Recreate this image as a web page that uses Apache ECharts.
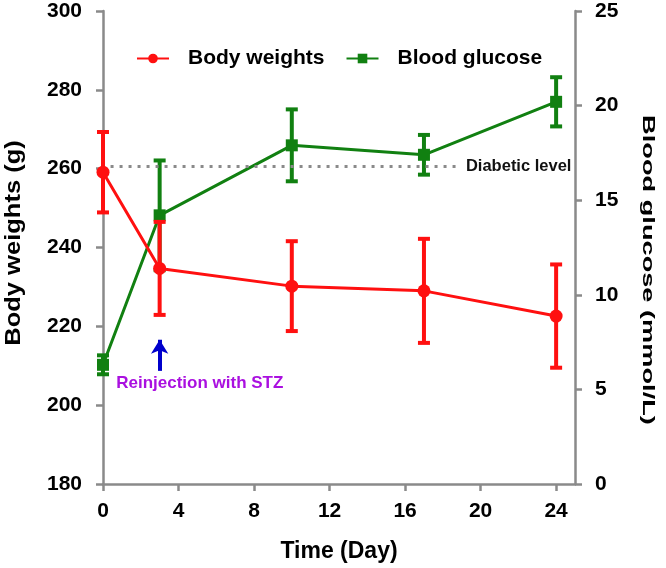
<!DOCTYPE html>
<html>
<head>
<meta charset="utf-8">
<script src="https://cdn.jsdelivr.net/npm/echarts@6/dist/echarts.min.js"></script>
<style>html,body{margin:0;padding:0;background:#fff;}#c{width:666px;height:568px;}</style>
</head>
<body>
<div id="c"></div>
<script>
// ---- data ----
const days = [0, 3, 10, 17, 24];
const bodyWeight = [259.1, 234.7, 230.2, 229.0, 222.6];
const bodyWeightErr = [10.2, 11.8, 11.4, 13.2, 13.1];
const glucose = [6.3, 14.2, 17.9, 17.4, 20.2];
const glucoseErr = [0.5, 2.9, 1.9, 1.05, 1.3];
const diabeticLevel = 16.8;
const xTicks = [0, 4, 8, 12, 16, 20, 24];
const leftTicks = [180, 200, 220, 240, 260, 280, 300];
const rightTicks = [0, 5, 10, 15, 20, 25];
const reinjectionDay = 3;
const leftTitle = 'Body weights (g)';
const rightTitle = 'Blood glucose (mmol/L)';
const xTitle = 'Time (Day)';

const FONT = '"Liberation Sans", Arial, sans-serif';
const AXIS_COLOR = '#8a8a8a';

function errData(vals, errs) {
  return days.map((d, i) => [d, vals[i] - errs[i], vals[i] + errs[i]]);
}
function errRender(color) {
  return function (params, api) {
    const x = api.value(0);
    const lo = api.coord([x, api.value(1)]);
    const hi = api.coord([x, api.value(2)]);
    const w = 6;
    const style = { stroke: color, lineWidth: 4 };
    return {
      type: 'group',
      children: [
        { type: 'line', shape: { x1: lo[0], y1: lo[1], x2: hi[0], y2: hi[1] }, style },
        { type: 'line', shape: { x1: lo[0] - w, y1: lo[1], x2: lo[0] + w, y2: lo[1] }, style },
        { type: 'line', shape: { x1: hi[0] - w, y1: hi[1], x2: hi[0] + w, y2: hi[1] }, style }
      ]
    };
  };
}

const chart = echarts.init(document.getElementById('c'));
const tickLabel = { color: '#000', fontWeight: 'bold', fontSize: 21, fontFamily: FONT };
chart.setOption({
  animation: false,
  backgroundColor: '#fff',
  grid: { left: 103, right: 91, top: 11, bottom: 84, containLabel: false, outerBoundsMode: 'none' },
  legend: {
    data: ['Body weights', 'Blood glucose'],
    left: 131, top: 43,
    itemWidth: 32, itemHeight: 12, itemGap: 21,
    textStyle: { color: '#000', fontWeight: 'bold', fontSize: 21, fontFamily: FONT, padding: [0, 0, 0, 14] }
  },
  graphic: [
    { type: 'text', x: 14, y: 243, rotation: Math.PI / 2, scaleX: 1.16, silent: true,
      style: { text: leftTitle, fill: '#000', font: 'bold 22px ' + FONT, align: 'center', verticalAlign: 'middle' } },
    { type: 'text', x: 648, y: 270, rotation: -Math.PI / 2, scaleX: 1.6, silent: true,
      style: { text: rightTitle, fill: '#000', font: 'bold 17px ' + FONT, align: 'center', verticalAlign: 'middle' } }
  ],
  xAxis: {
    type: 'value', min: 0, max: 25, interval: 4,
    name: xTitle, nameLocation: 'middle', nameGap: 56,
    nameTextStyle: { color: '#000', fontWeight: 'bold', fontSize: 23, fontFamily: FONT },
    axisLine: { show: true, lineStyle: { color: AXIS_COLOR, width: 2.5 } },
    axisTick: { show: true, length: 7, lineStyle: { color: AXIS_COLOR, width: 2.5 } },
    axisLabel: Object.assign({ margin: 17, showMaxLabel: false,
      formatter: v => xTicks.includes(v) ? String(v) : '' }, tickLabel),
    splitLine: { show: false }
  },
  yAxis: [
    {
      type: 'value', min: 180, max: 300, interval: 20, position: 'left',
      axisLine: { show: true, lineStyle: { color: AXIS_COLOR, width: 2.5 } },
      axisTick: { show: true, length: 7, lineStyle: { color: AXIS_COLOR, width: 2.5 } },
      axisLabel: Object.assign({ margin: 21, formatter: v => leftTicks.includes(v) ? String(v) : '' }, tickLabel),
      splitLine: { show: false }
    },
    {
      type: 'value', min: 0, max: 25, interval: 5, position: 'right',
      axisLine: { show: true, lineStyle: { color: AXIS_COLOR, width: 2.5 } },
      axisTick: { show: true, length: 7, lineStyle: { color: AXIS_COLOR, width: 2.5 } },
      axisLabel: Object.assign({ margin: 20, formatter: v => rightTicks.includes(v) ? String(v) : '' }, tickLabel),
      splitLine: { show: false }
    }
  ],
  series: [
    {
      name: 'glucoseErr', type: 'custom', yAxisIndex: 1, z: 2,
      data: errData(glucose, glucoseErr), renderItem: errRender('#118011'),
      encode: { x: 0, y: [1, 2] }, silent: true
    },
    {
      name: 'Blood glucose', type: 'line', yAxisIndex: 1, z: 3,
      data: days.map((d, i) => [d, glucose[i]]),
      symbol: 'rect', symbolSize: 12, color: '#118011',
      lineStyle: { width: 3, color: '#118011' }, itemStyle: { color: '#118011' },
      markLine: {
        silent: true, symbol: ['none', 'none'],
        data: [
          [
            { coord: [0.4, diabeticLevel], lineStyle: { color: '#8a8a8a', width: 3, type: [3, 6] },
              label: { show: true, position: 'end', formatter: 'Diabetic level', distance: 8,
                color: '#111', fontSize: 16.5, fontWeight: 'bold', fontFamily: FONT } },
            { coord: [18.8, diabeticLevel] }
          ],
          [
            { coord: [25, diabeticLevel], lineStyle: { color: AXIS_COLOR, width: 2.5, type: 'solid' }, label: { show: false } },
            { coord: [25.37, diabeticLevel] }
          ]
        ]
      }
    },
    {
      name: 'bwErr', type: 'custom', yAxisIndex: 0, z: 4,
      data: errData(bodyWeight, bodyWeightErr), renderItem: errRender('#ff1010'),
      encode: { x: 0, y: [1, 2] }, silent: true
    },
    {
      name: 'Body weights', type: 'line', yAxisIndex: 0, z: 5,
      data: days.map((d, i) => [d, bodyWeight[i]]),
      symbol: 'circle', symbolSize: 13, color: '#ff1010',
      lineStyle: { width: 3, color: '#ff1010' }, itemStyle: { color: '#ff1010' },
      markLine: {
        silent: true, symbol: ['none', 'arrow'], symbolSize: [13, 14],
        lineStyle: { color: '#0000cc', width: 4, type: 'solid' },
        label: { show: false },
        data: [[{ coord: [reinjectionDay, 208.7] }, { coord: [reinjectionDay, 216.6] }]]
      },
      markPoint: {
        silent: true, symbol: 'rect', symbolSize: 1, itemStyle: { color: 'rgba(0,0,0,0)' },
        data: [{
          coord: [0.7, 205.6],
          label: { show: true, position: 'inside', align: 'left', verticalAlign: 'middle',
            formatter: 'Reinjection with STZ', color: '#aa10e0', fontSize: 17, fontWeight: 'bold', fontFamily: FONT }
        }]
      }
    }
  ]
});
</script>
</body>
</html>
